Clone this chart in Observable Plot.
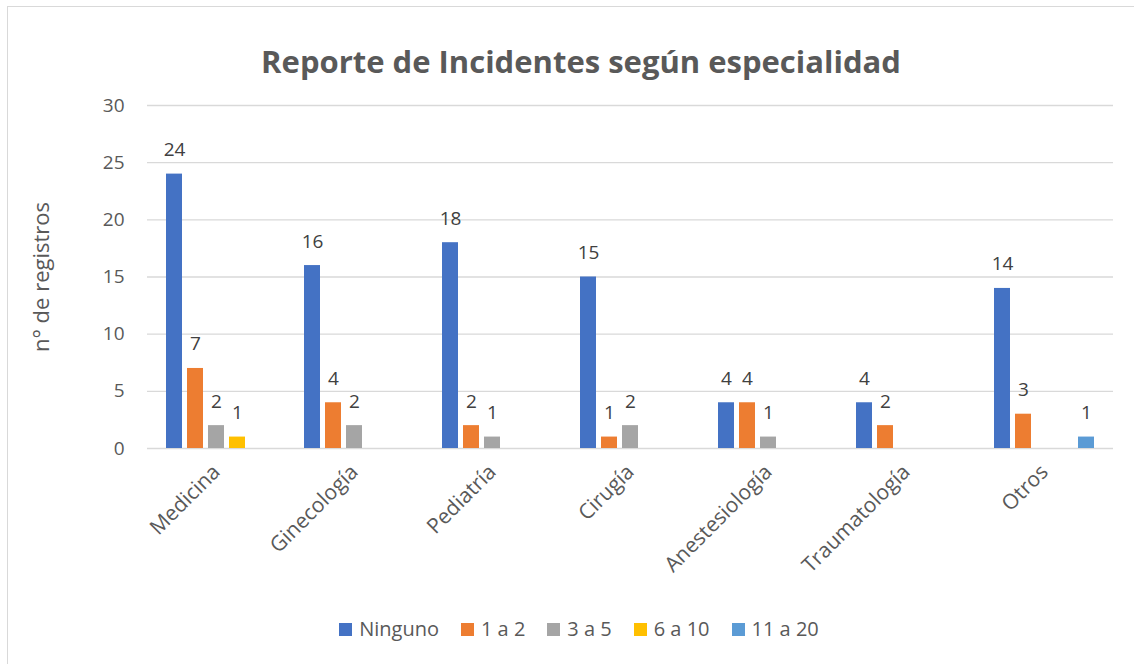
<!DOCTYPE html>
<html>
<head>
<meta charset="utf-8">
<script src="https://cdn.jsdelivr.net/npm/d3@7"></script>
<script src="https://cdn.jsdelivr.net/npm/@observablehq/plot@0.6"></script>
<style>
  html, body { margin: 0; padding: 0; background: #fff; }
  body { width: 1134px; height: 664px; position: relative; overflow: hidden; font-family: "Open Sans", sans-serif; }
  #frame { position: absolute; left: 7px; top: 6px; width: 1200px; height: 700px; border: 1px solid #d9d9d9; box-sizing: border-box; }
  #title { position: absolute; left: 0; top: 46px; width: 1162px; text-align: center; font-size: 31px; line-height: 1; font-weight: 700; color: #595959; }
  #chart { position: absolute; left: 0; top: 0; }
  #legend { position: absolute; left: 0; top: 619px; width: 1158px; display: flex; justify-content: center; align-items: center; font-size: 20px; line-height: 1; color: #595959; }
  .item { display: flex; align-items: center; margin: 0 11px; }
  .sw { width: 13px; height: 13px; margin-right: 7px; }
</style>
</head>
<body>
<div id="frame"></div>
<div id="chart"></div>
<div id="title">Reporte de Incidentes según especialidad</div>
<div id="legend"></div>
<script>
const categories = ["Medicina", "Ginecología", "Pediatría", "Cirugía", "Anestesiología", "Traumatología", "Otros"];
const series = ["Ninguno", "1 a 2", "3 a 5", "6 a 10", "11 a 20"];
const ninguno = [24, 16, 18, 15, 4, 4, 14];
const unoADos = [7, 4, 2, 1, 4, 2, 3];
const tresACinco = [2, 2, 1, 2, 1, 0, 0];
const seisADiez = [1, 0, 0, 0, 0, 0, 0];
const onceAVeinte = [0, 0, 0, 0, 0, 0, 1];
const yTicks = [0, 5, 10, 15, 20, 25, 30];
const colors = ["#4472C4", "#ED7D31", "#A5A5A5", "#FFC000", "#5B9BD5"];

const seriesValues = [ninguno, unoADos, tresACinco, seisADiez, onceAVeinte];
const table = [];
categories.forEach((cat, i) => {
  series.forEach((s, j) => {
    table.push({cat, series: s, value: seriesValues[j][i]});
  });
});

const chart = Plot.plot({
  width: 1134,
  height: 600,
  marginLeft: 147,
  marginRight: 21,
  marginTop: 105,
  marginBottom: 152,
  style: {fontFamily: "'Open Sans', sans-serif", fontSize: "19px", color: "#595959", background: "transparent", overflow: "visible"},
  fx: {domain: categories, padding: 0},
  x: {domain: series, paddingInner: 0.225, paddingOuter: 0.85, axis: null},
  y: {domain: [0, 30]},
  color: {domain: series, range: colors},
  marks: [
    Plot.ruleY(yTicks, {stroke: "#d9d9d9", strokeWidth: 1.3}),
    Plot.barY(table, {fx: "cat", x: "series", y: "value", fill: "series"}),
    Plot.text(table.filter(d => d.value > 0), {
      fx: "cat", x: "series", y: "value", text: d => String(d.value),
      dy: -18, lineAnchor: "bottom", fill: "#404040", fontSize: 19
    }),
    Plot.axisY(yTicks, {tickSize: 0, tickPadding: 23, label: null, fontSize: 19}),
    Plot.axisY([], {tickSize: 0, label: "n° de registros", labelAnchor: "center", labelArrow: "none", labelOffset: 114, fontSize: 22}),
    Plot.axisFx({anchor: "bottom", tickSize: 0, tickPadding: 20, tickRotate: -45, label: null, fontSize: 21})
  ]
});
document.getElementById("chart").appendChild(chart);

const legend = document.getElementById("legend");
series.forEach((s, j) => {
  const item = document.createElement("div");
  item.className = "item";
  const sw = document.createElement("div");
  sw.className = "sw";
  sw.style.background = colors[j];
  const label = document.createElement("span");
  label.textContent = s;
  item.appendChild(sw);
  item.appendChild(label);
  legend.appendChild(item);
});
</script>
</body>
</html>
